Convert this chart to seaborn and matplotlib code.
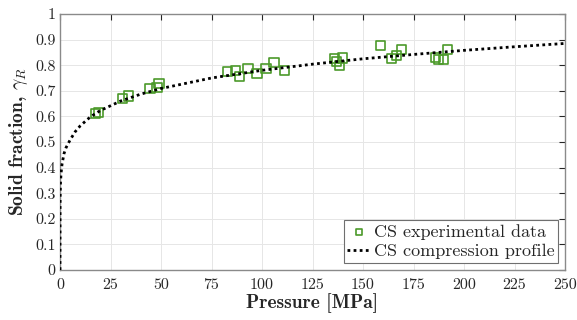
import matplotlib
matplotlib.use("Agg")
import matplotlib.pyplot as plt
import seaborn as sns
import pandas as pd

# Experimental data (pressure MPa, solid fraction)
exp_pressure = [17.5, 19.0, 31.0, 34.0, 44.5, 48.0, 49.0,
                83.0, 87.0, 89.0, 93.0, 97.5, 102.0, 106.0, 111.0,
                136.0, 137.0, 138.5, 140.0, 158.5, 164.0, 166.5, 169.0,
                186.0, 187.5, 190.0, 192.0]
exp_fraction = [0.610, 0.615, 0.670, 0.680, 0.710, 0.712, 0.728,
                0.775, 0.778, 0.757, 0.787, 0.767, 0.788, 0.810, 0.778,
                0.825, 0.815, 0.800, 0.828, 0.878, 0.826, 0.838, 0.860,
                0.830, 0.822, 0.822, 0.862]

# Compression profile
prof_pressure = [0.0, 0.05, 0.1, 0.25, 0.5, 1, 2, 3, 5, 7.5, 10, 15, 20, 30, 40,
                 50, 75, 100, 125, 150, 175, 200, 225, 250]
prof_fraction = [0.0, 0.25, 0.29, 0.341, 0.375, 0.413, 0.455, 0.478, 0.508,
                 0.540, 0.563, 0.598, 0.623, 0.660, 0.687, 0.709, 0.750,
                 0.780, 0.804, 0.825, 0.842, 0.858, 0.872, 0.885]

x_ticks = [0, 25, 50, 75, 100, 125, 150, 175, 200, 225, 250]
y_ticks = [0, 0.1, 0.2, 0.3, 0.4, 0.5, 0.6, 0.7, 0.8, 0.9, 1]
y_ticklabels = ["0", "0.1", "0.2", "0.3", "0.4", "0.5", "0.6", "0.7", "0.8", "0.9", "1"]

sns.set_style("whitegrid")
plt.rcParams["font.family"] = ["cmr10", "DejaVu Sans"]
plt.rcParams["mathtext.fontset"] = "cm"
plt.rcParams["axes.unicode_minus"] = False

exp_df = pd.DataFrame({"p": exp_pressure, "f": exp_fraction})
prof_df = pd.DataFrame({"p": prof_pressure, "f": prof_fraction})

fig = plt.figure(figsize=(5.77, 3.2), dpi=100)
ax = fig.add_axes([60 / 577, (320 - 270) / 320, (565 - 60) / 577, (270 - 14) / 320])

green = "#4c9a2a"
sns.scatterplot(data=exp_df, x="p", y="f", ax=ax, marker="s", s=45,
                facecolor="none", edgecolor=green, linewidth=1.2,
                label="CS experimental data", zorder=3)
sns.lineplot(data=prof_df, x="p", y="f", ax=ax, color="black",
             linestyle=(0, (1, 1.2)), linewidth=2.0, sort=False,
             label="CS compression profile", zorder=4)

ax.set_xlim(0, 250)
ax.set_ylim(0, 1)
ax.set_xticks(x_ticks)
ax.set_xticklabels([str(t) for t in x_ticks])
ax.set_yticks(y_ticks)
ax.set_yticklabels(y_ticklabels)
ax.tick_params(axis="both", direction="in", length=4, width=0.8,
               colors="#262626", labelsize=11.5, top=True, right=True,
               labelcolor="#262626")
ax.tick_params(axis="x", pad=6)
ax.tick_params(axis="y", pad=3)
for sp in ax.spines.values():
    sp.set_visible(True)
    sp.set_color("#8a8a8a")
    sp.set_linewidth(1.0)
ax.grid(True, color="#e6e6e6", linewidth=0.7)

ax.set_xlabel("Pressure [MPa]", fontfamily="cmb10", fontsize=14, color="#262626", labelpad=1)
ax.set_ylabel(r"Solid fraction, $\gamma_R$", fontfamily="cmb10", fontsize=14, color="#262626", labelpad=4)

leg = ax.legend(loc="lower right", fontsize=13, frameon=True, fancybox=False,
                borderpad=0.2, handlelength=1.3, handletextpad=0.15,
                labelspacing=0.2, borderaxespad=0.4, markerscale=0.7)
leg.get_frame().set_edgecolor("#6f6f6f")
leg.get_frame().set_linewidth(0.8)
leg.get_frame().set_alpha(1)

fig.savefig("out.png", dpi=100)
